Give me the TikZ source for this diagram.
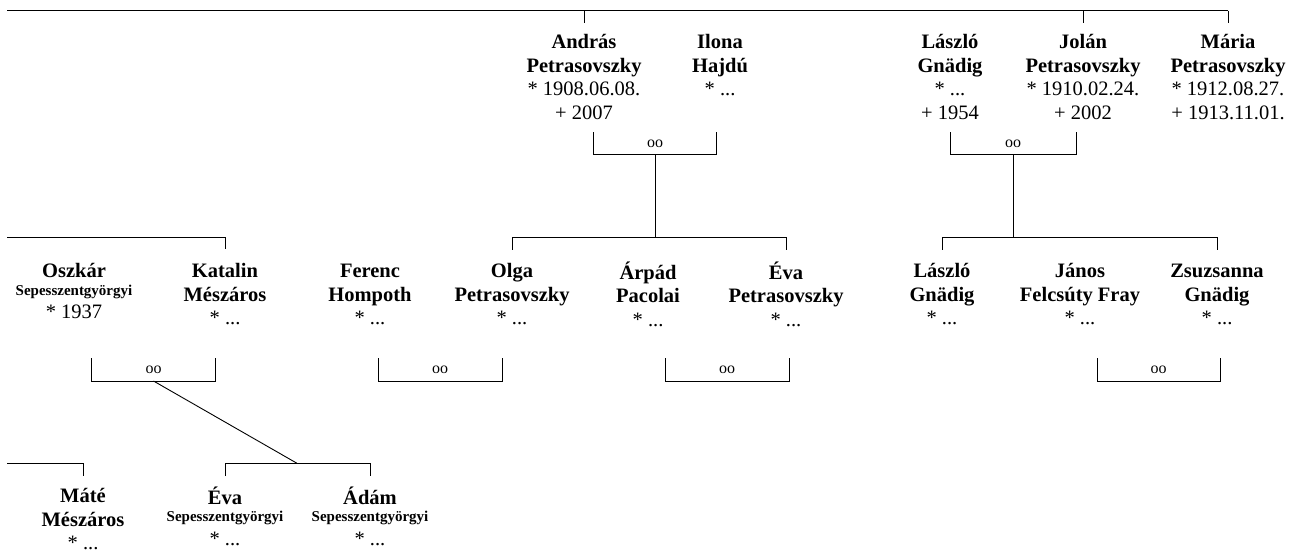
\documentclass[tikz,border=0pt]{standalone}
\usepackage{fontspec}
\setmainfont{Liberation Serif}
\begin{document}
\begin{tikzpicture}[x=1pt,y=-1pt,
  line width=0.9pt,
  person/.style={align=center,inner sep=0pt,anchor=north,font=\fontsize{20.5}{23.5}\selectfont},
  marr/.style={inner sep=0pt,font=\fontsize{16}{18}\selectfont}]
\useasboundingbox (0,0) rectangle (1293,553);
\newcommand{\sm}[1]{{\fontsize{15}{17}\selectfont #1}}
% ---------- level 1 ----------
\node[person] (andras) at (584,32) {\strut\textbf{András}\\\textbf{Petrasovszky}\\* 1908.06.08.\\+ 2007};
\node[person] (ilona) at (720,32) {\strut\textbf{Ilona}\\\textbf{Hajdú}\\* ...};
\node[person] (laszlo1) at (950,32) {\strut\textbf{László}\\\textbf{Gnädig}\\* ...\\+ 1954};
\node[person] (jolan) at (1083,32) {\strut\textbf{Jolán}\\\textbf{Petrasovszky}\\* 1910.02.24.\\+ 2002};
\node[person] (maria) at (1228,32) {\strut\textbf{Mária}\\\textbf{Petrasovszky}\\* 1912.08.27.\\+ 1913.11.01.};
\coordinate (top0) at (7,10.7);
\coordinate (topE) at (1228,10.7);
\draw (top0) -- (topE);
\draw (andras.north |- top0) -- (andras.north |- 0,22.7);
\draw (jolan.north |- top0) -- (jolan.north |- 0,22.7);
\draw (maria.north |- top0) -- (maria.north |- 0,22.7);
% marriage brackets level 1
\coordinate (b1l) at (593.5,132.5);
\coordinate (b1r) at (716.5,132.5);
\draw (b1l) -- (593.5,154.5) -| (b1r);
\node[marr] (oo1) at (655,144) {oo};
\coordinate (b2l) at (950,132.5);
\coordinate (b2r) at (1076,132.5);
\draw (b2l) -- (950,154.5) -| (b2r);
\node[marr] (oo2) at (1013,144) {oo};
% ---------- level 2 ----------
\node[person] (oszkar) at (74,261) {\strut\textbf{Oszkár}\\[-6pt]\sm{\textbf{Sepesszentgyörgyi}}\\* 1937};
\node[person] (katalin) at (225,261) {\strut\textbf{Katalin}\\\textbf{Mészáros}\\* ...};
\node[person] (ferenc) at (370,261) {\strut\textbf{Ferenc}\\\textbf{Hompoth}\\* ...};
\node[person] (olga) at (512,261) {\strut\textbf{Olga}\\\textbf{Petrasovszky}\\* ...};
\node[person] (arpad) at (648,261) {\strut\textbf{Árpád}\\\textbf{Pacolai}\\* ...};
\node[person] (eva1) at (786,261) {\strut\textbf{Éva}\\\textbf{Petrasovszky}\\* ...};
\node[person] (laszlo2) at (942,261) {\strut\textbf{László}\\\textbf{Gnädig}\\* ...};
\node[person] (janos) at (1080,261) {\strut\textbf{János}\\\textbf{Felcsúty Fray}\\* ...};
\node[person] (zsuzsa) at (1217,261) {\strut\textbf{Zsuzsanna}\\\textbf{Gnädig}\\* ...};
% child lines level 2
\coordinate (l2a) at (7,237.7);
\draw (l2a) -| (katalin.north |- 0,249.5);
\coordinate (c1) at (655.5,154.5);
\coordinate (c1b) at (655.5,237.7);
\draw (c1) -- (c1b);
\draw (olga.north |- 0,250) |- (c1b) -| (eva1.north |- 0,250);
\coordinate (c2) at (1013,154.5);
\coordinate (c2b) at (1013,237.7);
\draw (c2) -- (c2b);
\draw (laszlo2.north |- 0,250) |- (c2b) -| (zsuzsa.north |- 0,250);
% marriage brackets level 2
\draw (91.5,358) -- (91.5,381) -| (215.5,358);
\node[marr] (oo3) at (153.5,370) {oo};
\coordinate (c3) at (153.5,381);
\draw (378,358) -- (378,381) -| (502,358);
\node[marr] (oo4) at (440,370) {oo};
\draw (665,358) -- (665,381) -| (789,358);
\node[marr] (oo5) at (727,370) {oo};
\draw (1097,358) -- (1097,381) -| (1220,358);
\node[marr] (oo6) at (1158.5,370) {oo};
% ---------- level 3 ----------
\node[person] (mate) at (83,486) {\strut\textbf{Máté}\\\textbf{Mészáros}\\* ...};
\node[person] (eva2) at (225,486) {\strut\textbf{Éva}\\[-6pt]\sm{\textbf{Sepesszentgyörgyi}}\\* ...};
\node[person] (adam) at (370,486) {\strut\textbf{Ádám}\\[-6pt]\sm{\textbf{Sepesszentgyörgyi}}\\* ...};
\coordinate (l3a) at (7,463.3);
\draw (l3a) -| (mate.north |- 0,476);
\coordinate (c3b) at (297,463.3);
\draw (c3) -- (c3b);
\draw (eva2.north |- 0,476) |- (c3b) -| (adam.north |- 0,476);
\end{tikzpicture}
\end{document}
